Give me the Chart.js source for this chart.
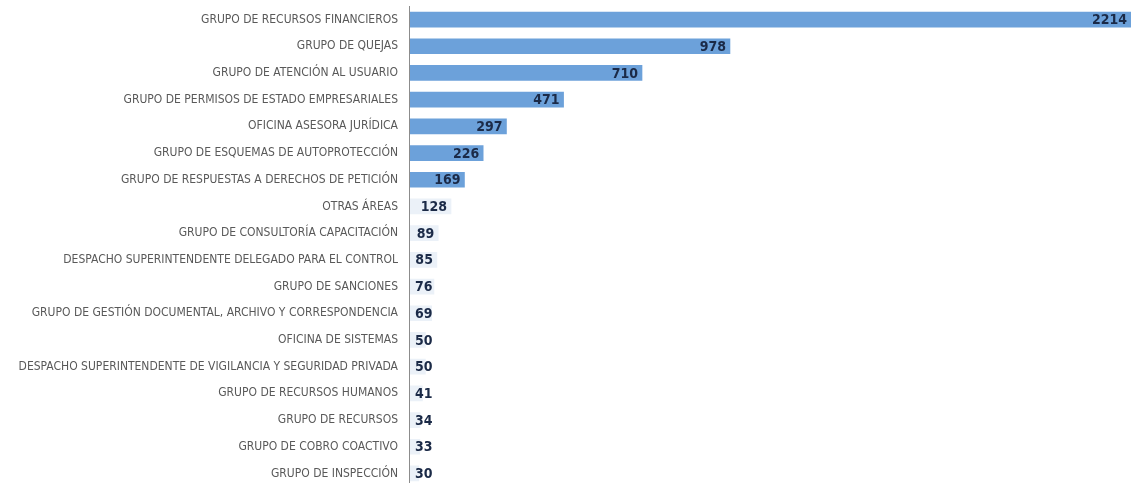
<!DOCTYPE html>
<html>
<head>
<meta charset="utf-8">
<script src="https://cdn.jsdelivr.net/npm/chart.js@4/dist/chart.umd.min.js"></script>
<style>
  html, body { margin: 0; padding: 0; background: #fff; overflow: hidden; }
  #wrap { width: 1131px; height: 483px; overflow: hidden; }
  #chart { display: block; margin-top: -12px; }
</style>
</head>
<body>
<div id="wrap"><canvas id="chart" width="1131" height="517"></canvas></div>
<script>
const areas = [
    "GRUPO DE RECURSOS FINANCIEROS",
    "GRUPO DE QUEJAS",
    "GRUPO DE ATENCIÓN AL USUARIO",
    "GRUPO DE PERMISOS DE ESTADO EMPRESARIALES",
    "OFICINA ASESORA JURÍDICA",
    "GRUPO DE ESQUEMAS DE AUTOPROTECCIÓN",
    "GRUPO DE RESPUESTAS A DERECHOS DE PETICIÓN",
    "OTRAS ÁREAS",
    "GRUPO DE CONSULTORÍA CAPACITACIÓN",
    "DESPACHO SUPERINTENDENTE DELEGADO PARA EL CONTROL",
    "GRUPO DE SANCIONES",
    "GRUPO DE GESTIÓN DOCUMENTAL, ARCHIVO Y CORRESPONDENCIA",
    "OFICINA DE SISTEMAS",
    "DESPACHO SUPERINTENDENTE DE VIGILANCIA Y SEGURIDAD PRIVADA",
    "GRUPO DE RECURSOS HUMANOS",
    "GRUPO DE RECURSOS",
    "GRUPO DE COBRO COACTIVO",
    "GRUPO DE INSPECCIÓN"
];
const totals = [2214, 978, 710, 471, 297, 226, 169, 128, 89, 85, 76, 69, 50, 50, 41, 34, 33, 30];

const AXIS_LEFT = 409;

// bars under ~150 come out almost white in the original
const barColors = totals.map(v => v >= 150 ? "#6ca1da" : "#ebf1f8");

const valueLabels = {
    id: "valueLabels",
    afterDatasetsDraw(chart) {
        const ctx = chart.ctx;
        const meta = chart.getDatasetMeta(0);
        ctx.save();
        ctx.font = "bold 14px 'Liberation Sans Narrow', 'DejaVu Sans Condensed', sans-serif";
        ctx.fillStyle = "#1b2a47";
        ctx.textAlign = "right";
        ctx.textBaseline = "middle";
        meta.data.forEach((bar, i) => {
            const txt = String(totals[i]);
            const w = ctx.measureText(txt).width;
            const right = Math.min(Math.max(bar.x - 4, chart.chartArea.left + 6 + w), chart.chartArea.right - 4);
            ctx.fillText(txt, right, bar.y + 1);
        });
        ctx.restore();
    }
};

new Chart(document.getElementById("chart").getContext("2d"), {
    type: "bar",
    data: {
        labels: areas,
        datasets: [
            {
                data: totals,
                backgroundColor: barColors,
                borderWidth: 0,
                barThickness: 15,
            },
        ],
    },
    options: {
        indexAxis: "y",
        responsive: false,
        animation: false,
        plugins: {
            legend: { display: false },
            tooltip: { enabled: false },
        },
        scales: {
            x: {
                display: false,
                min: 0,
                max: 2200,
            },
            y: {
                afterFit(scale) {
                    scale.width = AXIS_LEFT;
                },
                grid: { display: false, drawTicks: false },
                border: { display: true, color: "#8c8c8c", width: 1, z: 1 },
                ticks: {
                    color: "#595959",
                    padding: 11,
                    autoSkip: false,
                    font: { family: "'Liberation Sans Narrow', 'DejaVu Sans Condensed', sans-serif", size: 12 },
                },
            },
        },
    },
    plugins: [valueLabels],
});
</script>
</body>
</html>
